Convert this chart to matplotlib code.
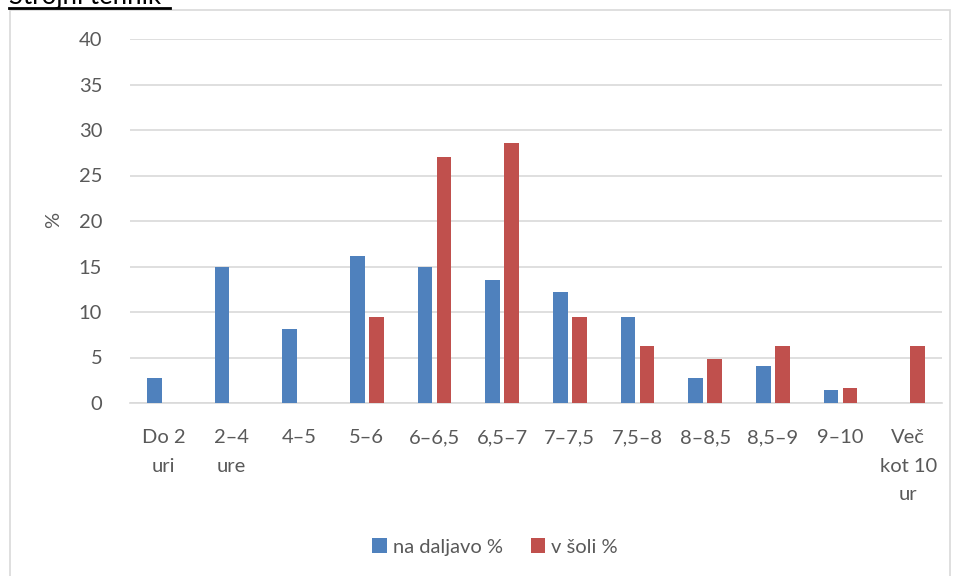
import numpy as np
import matplotlib.pyplot as plt
from matplotlib.patches import Rectangle

plt.rcParams['font.family'] = ['Lato', 'DejaVu Sans']

kategorije = ['Do 2\nuri', '2–4\nure', '4–5', '5–6', '6–6,5', '6,5–7', '7–7,5',
              '7,5–8', '8–8,5', '8,5–9', '9–10', 'Več\nkot 10\nur']
na_daljavo = [2.7, 14.9, 8.1, 16.2, 14.9, 13.5, 12.2, 9.5, 2.7, 4.1, 1.4, 0]
v_soli = [0, 0, 0, 9.5, 27.0, 28.6, 9.5, 6.3, 4.8, 6.3, 1.6, 6.3]

modra = '#4F81BD'
rdeca = '#C0504D'
siva = '#595959'

fig = plt.figure(figsize=(9.57, 5.76), dpi=100)
ax = fig.add_axes([130/957, 1-403/576, 812/957, 364/576])

x = np.arange(len(kategorije))
w = 0.22
ax.bar(x - 0.14, na_daljavo, w, color=modra, label='na daljavo %', zorder=3)
ax.bar(x + 0.14, v_soli, w, color=rdeca, label='v šoli %', zorder=3)

ax.set_xlim(-0.5, len(kategorije) - 0.5)
ax.set_ylim(0, 40)
ax.set_yticks(range(0, 41, 5))
ax.yaxis.grid(True, color='#d9d9d9', linewidth=1.2, zorder=0)
ax.set_xticks(x)
ax.set_xticklabels(kategorije, linespacing=1.8, va='top')
for s in ['top', 'right', 'left']:
    ax.spines[s].set_visible(False)
ax.spines['bottom'].set_color('#d9d9d9')
ax.spines['bottom'].set_linewidth(1.2)
ax.tick_params(axis='both', length=0, labelsize=14.5, colors=siva)
ax.tick_params(axis='x', pad=19)
ax.tick_params(axis='y', pad=20)
ax.set_ylabel('%', fontsize=14.5, color=siva)
ax.yaxis.set_label_coords(-0.084, 0.503)

ax.legend(loc='center', bbox_to_anchor=(495/957, 1-547/576),
          bbox_transform=fig.transFigure, ncol=2, frameon=False,
          fontsize=14.5, labelcolor=siva, handlelength=0.7, handleheight=0.7,
          columnspacing=1.4, handletextpad=0.3)

fig.patches.append(Rectangle((10/957, -0.02), 940/957, 1.02 - 10/576,
                             transform=fig.transFigure, fill=False,
                             edgecolor='#d9d9d9', linewidth=1.2))
fig.text(9/957, 1 - 4/576, 'Strojni tehnik', fontsize=18.5, color='black',
         va='baseline', ha='left')
fig.add_artist(plt.Line2D([9/957, 170/957], [1 - 8/576, 1 - 8/576],
                          color='black', linewidth=2, transform=fig.transFigure))

fig.savefig('out.png', dpi=100)
